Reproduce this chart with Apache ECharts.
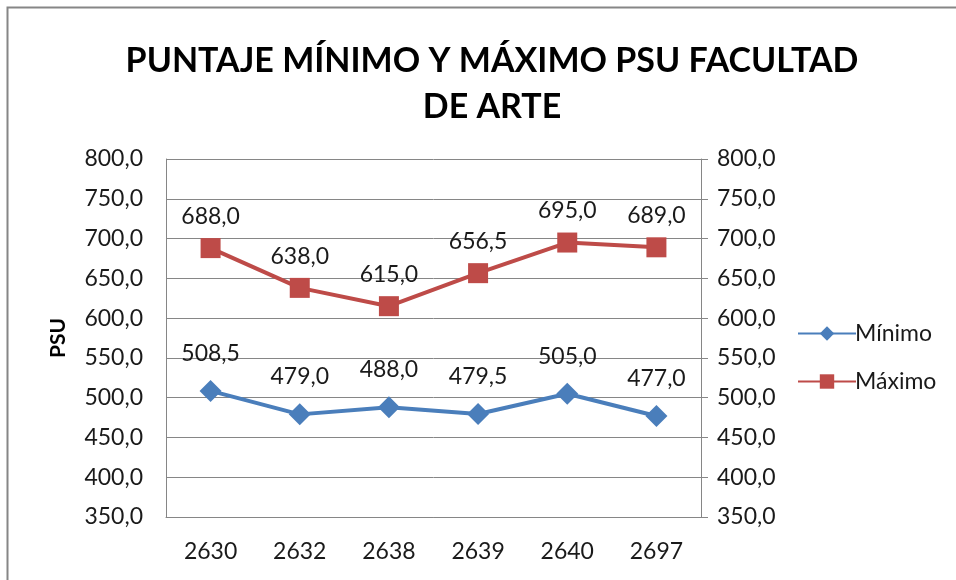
<!DOCTYPE html>
<html>
<head>
	<meta charset="utf-8">
	<title>Puntaje PSU</title>
	<script src="https://cdn.jsdelivr.net/npm/echarts@6/dist/echarts.min.js"></script>
	<style>
		html, body { margin: 0; padding: 0; background: #fff; }
		#chart { width: 956px; height: 580px; }
	</style>
</head>
<body>
<div id="chart"></div>
<script>
	// datos
	var carreras = ['2630', '2632', '2638', '2639', '2640', '2697'];
	var minimo = [508.5, 479.0, 488.0, 479.5, 505.0, 477.0];
	var maximo = [688.0, 638.0, 615.0, 656.5, 695.0, 689.0];
	var yMin = 350, yMax = 800, yPaso = 50;

	var fuente = 'Lato, "Noto Sans", sans-serif';
	function coma(v){
		return Number(v).toFixed(1).replace('.', ',');
	}

	var chart = echarts.init(document.getElementById('chart'));
	var ejeY = function(pos){
		return {
			type: 'value',
			position: pos,
			min: yMin, max: yMax, interval: yPaso,
			axisLine: {show: true, lineStyle: {color: '#868686', width: 1}},
			axisTick: {show: pos == 'right', length: 7, lineStyle: {color: '#868686'}},
			axisLabel: {
				formatter: coma, color: '#1a1a1a', fontSize: 23, fontFamily: fuente,
				margin: pos == 'right' ? 16 : 23
			},
			splitLine: {show: pos == 'left', lineStyle: {color: '#868686', width: 1}}
		};
	};
	var left = ejeY('left');
	left.name = 'PSU';
	left.nameLocation = 'middle';
	left.nameGap = 97;
	left.nameTextStyle = {fontSize: 21, fontWeight: 'bold', color: '#000', fontFamily: fuente};

	chart.setOption({
		animation: false,
		title: {
			text: 'PUNTAJE MÍNIMO Y MÁXIMO PSU FACULTAD\nDE ARTE',
			left: 487, top: 33, textAlign: 'center',
			textStyle: {fontSize: 34, fontWeight: 'bold', color: '#000', fontFamily: fuente, lineHeight: 46}
		},
		graphic: [{
			type: 'rect', shape: {x: 7.5, y: 7.5, width: 1000, height: 1000},
			style: {fill: 'none', stroke: '#868686', lineWidth: 2}, silent: true
		}],
		legend: {
			orient: 'vertical', left: 792, top: 317, itemGap: 25,
			itemWidth: 58, itemHeight: 18,
			textStyle: {fontSize: 23, color: '#1a1a1a', fontFamily: fuente, padding: [0, 0, 0, -6]},
			data: ['Mínimo', 'Máximo']
		},
		grid: {left: 166, right: 255, top: 159, bottom: 63},
		xAxis: {
			type: 'category', data: carreras, boundaryGap: true,
			axisLine: {lineStyle: {color: '#868686'}},
			axisTick: {show: false},
			axisLabel: {color: '#1a1a1a', fontSize: 23, fontFamily: fuente, margin: 23}
		},
		yAxis: [left, ejeY('right')],
		series: [{
			name: 'Mínimo', type: 'line', data: minimo,
			symbol: 'diamond', symbolSize: 22,
			itemStyle: {color: '#4a7ebb'},
			lineStyle: {width: 4, color: '#4a7ebb'},
			label: {show: true, position: 'top', distance: 15, formatter: function(p){ return coma(p.value); },
				fontSize: 23, color: '#1a1a1a', fontFamily: fuente}
		}, {
			name: 'Máximo', type: 'line', data: maximo,
			symbol: 'rect', symbolSize: 20,
			itemStyle: {color: '#be4b48'},
			lineStyle: {width: 4, color: '#be4b48'},
			label: {show: true, position: 'top', distance: 10, formatter: function(p){ return coma(p.value); },
				fontSize: 23, color: '#1a1a1a', fontFamily: fuente}
		}]
	});
	window.onresize = chart.resize;
</script>
</body>
</html>
